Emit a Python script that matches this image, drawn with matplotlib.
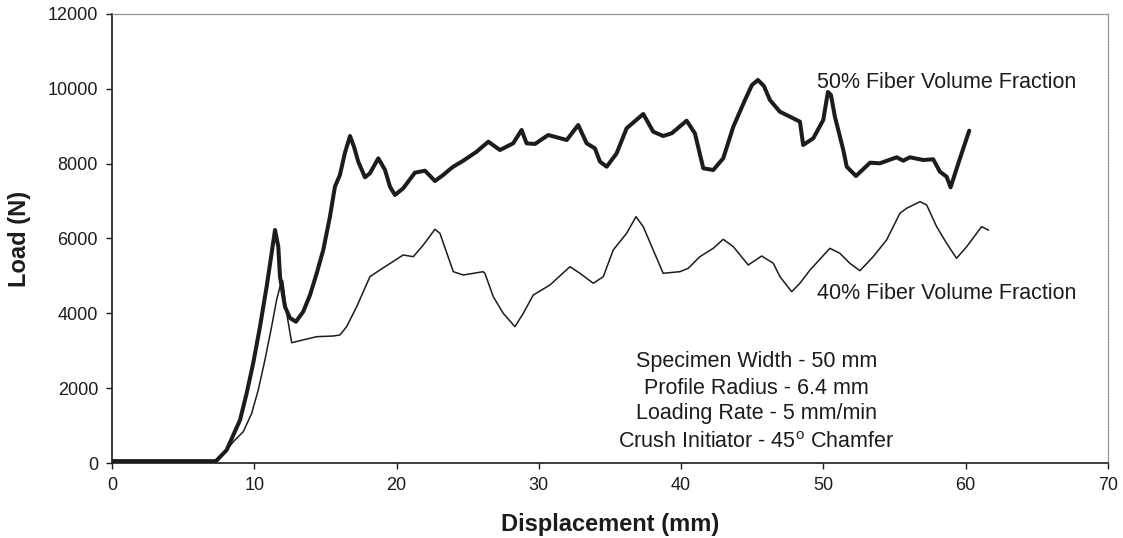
import matplotlib
matplotlib.use("Agg")
import matplotlib.pyplot as plt

plt.rcParams['font.family'] = ['Liberation Sans', 'DejaVu Sans']
plt.rcParams['mathtext.fontset'] = 'custom'
plt.rcParams['mathtext.rm'] = 'Liberation Sans'

# Load-displacement record, 50% fiber volume fraction
disp_50 = [0.0, 2.67, 6.18, 7.31, 8.06, 9.00, 9.47, 9.93, 10.40, 10.87, 11.22, 11.46,
           11.69, 11.81, 12.16, 12.51, 12.93, 13.44, 13.92, 14.39, 14.85, 15.32, 15.67,
           16.02, 16.37, 16.73, 17.01, 17.31, 17.78, 18.13, 18.72, 19.19, 19.54, 19.89,
           20.47, 21.29, 22.00, 22.70, 23.28, 23.75, 23.99, 24.69, 25.63, 26.45, 27.27,
           28.20, 28.79, 29.14, 29.73, 30.66, 31.96, 32.77, 33.36, 33.94, 34.30, 34.77,
           35.47, 36.17, 37.34, 38.04, 38.74, 39.34, 40.39, 40.97, 41.56, 42.26, 42.96,
           43.67, 44.49, 44.98, 45.40, 45.82, 46.24, 46.94, 47.88, 48.35, 48.58, 49.29,
           49.99, 50.32, 50.53, 50.81, 51.40, 51.64, 52.29, 53.28, 53.97, 55.15, 55.61,
           56.08, 57.02, 57.72, 58.19, 58.66, 58.94, 59.60, 60.25]
load_50 = [50, 50, 50, 50, 347, 1149, 1871, 2673, 3635, 4712, 5604, 6227,
           5781, 4979, 4177, 3875, 3776, 4044, 4490, 5070, 5693, 6583, 7384,
           7697, 8285, 8739, 8453, 8053, 7636, 7743, 8143, 7831, 7384, 7163,
           7342, 7759, 7812, 7537, 7697, 7849, 7919, 8079, 8320, 8587, 8365,
           8544, 8900, 8544, 8526, 8766, 8632, 9033, 8544, 8411, 8053, 7919,
           8277, 8945, 9327, 8854, 8739, 8812, 9148, 8812, 7876, 7831, 8143,
           8988, 9702, 10102, 10236, 10076, 9702, 9389, 9212, 9122, 8499, 8678,
           9167, 9915, 9835, 9255, 8365, 7919, 7670, 8026, 8010, 8170, 8079,
           8170, 8098, 8117, 7785, 7652, 7368, 8143, 8881]

# Load-displacement record, 40% fiber volume fraction
disp_40 = [0.0, 2.67, 6.18, 7.31, 7.59, 8.53, 9.23, 9.82, 10.28, 10.75, 11.22, 11.57,
           11.81, 12.00, 12.28, 12.63, 13.21, 14.39, 15.55, 16.02, 16.49, 17.20, 18.13,
           18.83, 20.47, 21.18, 21.88, 22.70, 23.05, 23.99, 24.69, 26.09, 26.21, 26.80,
           27.50, 28.32, 28.91, 29.61, 30.78, 32.19, 32.89, 33.83, 34.53, 35.23, 36.17,
           36.83, 37.34, 38.04, 38.74, 39.92, 40.50, 41.32, 42.26, 42.96, 43.67, 44.72,
           45.66, 46.48, 46.95, 47.77, 48.35, 49.06, 50.46, 51.16, 51.86, 52.57, 53.50,
           54.44, 55.38, 55.85, 56.79, 57.26, 57.96, 58.66, 59.36, 60.07, 61.12, 61.59]
load_40 = [50, 50, 50, 50, 125, 570, 837, 1328, 1951, 2753, 3643, 4356,
           4712, 4872, 4001, 3215, 3269, 3376, 3394, 3421, 3643, 4177, 4979,
           5158, 5559, 5514, 5826, 6246, 6139, 5113, 5024, 5113, 5070, 4445,
           4001, 3643, 4001, 4490, 4757, 5246, 5070, 4803, 4979, 5693, 6139,
           6583, 6316, 5693, 5070, 5113, 5203, 5514, 5738, 5979, 5781, 5292,
           5532, 5337, 4979, 4578, 4803, 5158, 5738, 5604, 5337, 5140, 5514,
           5960, 6674, 6807, 6984, 6895, 6316, 5872, 5471, 5781, 6316, 6227]

x_ticks = [0, 10, 20, 30, 40, 50, 60, 70]
y_ticks = [0, 2000, 4000, 6000, 8000, 10000, 12000]

test_notes = ["Specimen Width - 50 mm",
              "Profile Radius - 6.4 mm",
              "Loading Rate - 5 mm/min",
              r"Crush Initiator - 45$^\mathregular{o}$ Chamfer"]

fig = plt.figure(figsize=(11.23, 5.38), dpi=100)
ax = fig.add_axes([0.0997, 0.1394, 0.8869, 0.8346])

ink = '#1c1c1c'
ax.plot(disp_40, load_40, color=ink, lw=1.1, solid_joinstyle='round')
ax.plot(disp_50, load_50, color=ink, lw=2.9, solid_joinstyle='round', solid_capstyle='round')

ax.set_xlim(0, 70)
ax.set_ylim(0, 12000)
ax.set_xticks(x_ticks)
ax.set_yticks(y_ticks)
ax.tick_params(direction='out', length=4, width=1, color=ink, labelsize=13,
               labelcolor=ink, pad=6)

for side in ('left', 'bottom'):
    ax.spines[side].set_color(ink)
    ax.spines[side].set_linewidth(1.2)
for side in ('top', 'right'):
    ax.spines[side].set_color('#8a8a8a')
    ax.spines[side].set_linewidth(0.9)
    ax.spines[side].set_linestyle((0, (1, 1.2)))

ax.set_xlabel("Displacement (mm)", fontsize=17, fontweight='bold', color=ink)
ax.set_ylabel("Load (N)", fontsize=17, fontweight='bold', color=ink)
ax.xaxis.set_label_coords(0.5, -0.112)
ax.yaxis.set_label_coords(-0.081, 0.5)

ax.text(49.55, 10180, "50% Fiber Volume Fraction", fontsize=15.5, color=ink,
        ha='left', va='center')
ax.text(49.55, 4543, "40% Fiber Volume Fraction", fontsize=15.5, color=ink,
        ha='left', va='center')

note_y = [2726, 2004, 1310, 560]
for txt, yy in zip(test_notes, note_y):
    ax.text(45.3, yy, txt, fontsize=15.5, color=ink, ha='center', va='center')

fig.savefig("out.png", dpi=100)
